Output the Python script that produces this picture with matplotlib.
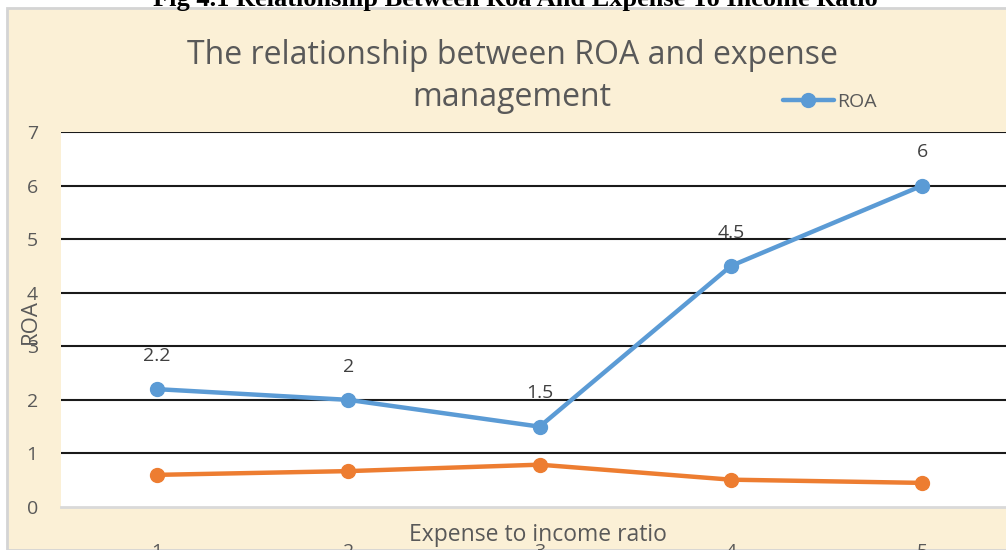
import matplotlib
matplotlib.use("Agg")
import matplotlib.pyplot as plt

categories = [1, 2, 3, 4, 5]
roa = [2.2, 2.0, 1.5, 4.5, 6.0]
expense_ratio = [0.6, 0.67, 0.79, 0.51, 0.45]
y_ticks = [0, 1, 2, 3, 4, 5, 6, 7]

BLUE = "#5b9bd5"
ORANGE = "#ed7d31"
TEXT = "#595959"
BG = "#fbf0d6"

plt.rcParams['font.family'] = ['Open Sans', 'DejaVu Sans']

fig = plt.figure(figsize=(10.06, 5.5), dpi=100)
fig.patch.set_facecolor("white")

# chart frame (parchment background with light grey border)
frame = plt.Rectangle((7 / 1006, 0), 1.0, 1 - 8 / 550, transform=fig.transFigure,
                      facecolor=BG, edgecolor="#d4d4d4", linewidth=2, zorder=-10)
fig.patches.append(frame)

# caption, mostly cut off at the top
fig.text(0.512, 1 - 6 / 550, "Fig 4.1 Relationship Between Roa And Expense To Income Ratio",
         family="Liberation Serif", fontweight="bold", fontsize=19,
         ha="center", va="baseline", color="black")

ax = fig.add_axes([61.4 / 1006, 43 / 550, 956.5 / 1006, 375 / 550])
ax.set_facecolor("white")
ax.set_xlim(0.5, 5.5)
ax.set_ylim(0, 7)

for y in y_ticks[1:]:
    ax.axhline(y, color="#1a1a1a", linewidth=1.5, zorder=1)

for s in ["top", "right", "left"]:
    ax.spines[s].set_visible(False)
ax.spines["bottom"].set_color("#d9d9d9")
ax.spines["bottom"].set_linewidth(2)

ax.plot(categories, roa, color=BLUE, linewidth=3.2, marker="o", markersize=10,
        label="ROA", zorder=3, solid_capstyle="round")
ax.plot(categories, expense_ratio, color=ORANGE, linewidth=3.2, marker="o",
        markersize=10, zorder=3, solid_capstyle="round")

for x, v in zip(categories, roa):
    ax.annotate(f"{v:g}", (x, v), xytext=(0, 24), textcoords="offset points",
                ha="center", va="center", fontsize=14, color="#404040")

ax.set_xticks(categories)
ax.set_yticks(y_ticks)
ax.tick_params(axis="both", length=0, labelsize=14, labelcolor=TEXT)
ax.tick_params(axis="x", pad=26)
ax.tick_params(axis="y", pad=17)

fig.text(30 / 1006, 1 - 322 / 550, "ROA", rotation=90, ha="center", va="center",
         fontsize=16, color=TEXT)
fig.text(538 / 1006, 1 - 535 / 550, "Expense to income ratio", ha="center", va="center",
         fontsize=16.5, color=TEXT)

fig.text(512 / 1006, 1 - 55 / 550, "The relationship between ROA and expense",
         ha="center", va="center", fontsize=23, color=TEXT)
fig.text(512 / 1006, 1 - 98 / 550, "management", ha="center", va="center",
         fontsize=23, color=TEXT)

ax.legend(loc="center left", bbox_to_anchor=(783 / 1006, 1 - 102 / 550),
          bbox_transform=fig.transFigure, frameon=False, fontsize=14,
          handlelength=2.6, handletextpad=0.2, labelcolor=TEXT, borderpad=0,
          borderaxespad=0)

fig.savefig("out.png", dpi=100, facecolor=fig.get_facecolor())
